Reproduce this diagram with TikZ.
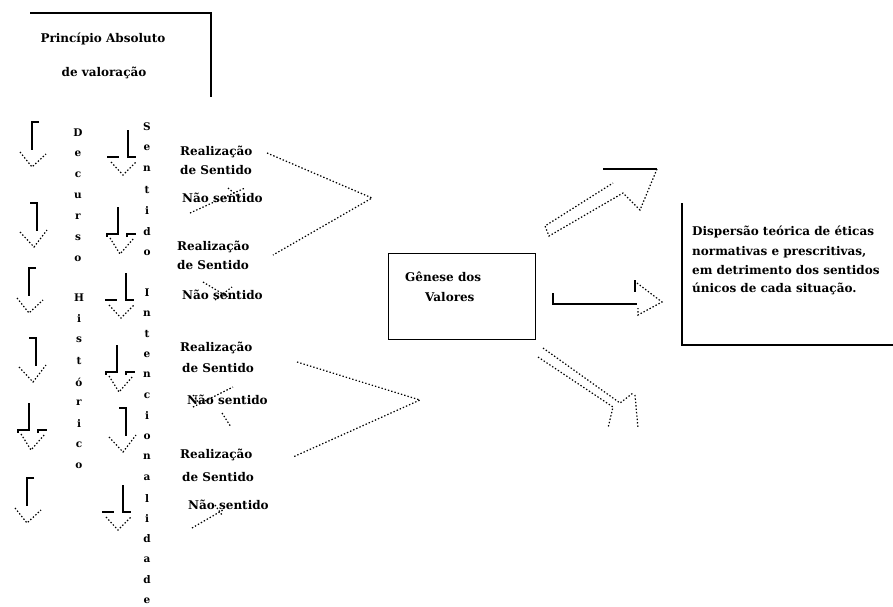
\documentclass[tikz,border=0pt]{standalone}
\usepackage{fontspec}
\setmainfont{DejaVu Serif}
\tikzset{
  ln/.style={line width=1.2pt},
  dt/.style={line width=1.2pt, dash pattern=on 1.4pt off 2pt},
  lbl/.style={font=\fontsize{12}{14}\selectfont\bfseries, inner sep=0pt, anchor=west},
  lblc/.style={font=\fontsize{12}{14}\selectfont\bfseries, inner sep=0pt, anchor=center},
  vl/.style={font=\fontsize{10.5}{12}\selectfont\bfseries, inner sep=0pt},
  atl/.pic={\draw[ln] (7,0)--(0,0)--(0,28); \draw[dt] (-12,30)--(0,45)--(14,32);},
  atr/.pic={\draw[ln] (-7,0)--(0,0)--(0,28); \draw[dt] (-17,29)--(-3,44)--(10,27);},
  afl/.pic={\draw[ln] (0,0)--(0,27)--(8,27); \draw[ln] (-21,27)--(-9,27); \draw[dt] (-17,32)--(-5,45)--(8,32);},
  ahk/.pic={\draw[ln] (0,0)--(0,27)--(-11,27)--(-11,30); \draw[ln] (9,30)--(9,27)--(18,27); \draw[dt] (-8,31)--(2,47)--(16,31);}
}
\begin{document}
\begin{tikzpicture}[x=1pt,y=-1pt]
\path[use as bounding box] (0,0) rectangle (893,606);

% top box
\draw[ln] (30,13) -- (211,13) -- (211,97);
\node[lblc] (pa) at (103,39) {Princípio Absoluto};
\node[lblc] (pv) at (104,73) {de valoração};

% left arrows column 1
\pic at (32,122) {atl};
\pic at (37,203) {atr};
\pic at (29,268) {atl};
\pic at (36,338) {atr};
\pic at (29,403) {ahk};
\pic at (27,478) {atl};
% left arrows column 2
\pic at (128,130) {afl};
\pic at (118,207) {ahk};
\pic at (126,273) {afl};
\pic at (117,345) {ahk};
\pic at (126,408) {atr};
\pic at (123,485) {afl};

% vertical words
\foreach \ch [count=\i from 0] in {D,e,c,u,r,s,o}
  \node[vl] (dc\i) at (78,{133+21*\i}) {\ch};
\foreach \ch [count=\i from 0] in {H,i,s,t,ó,r,i,c,o}
  \node[vl] (hi\i) at (79,{298+21*\i}) {\ch};
\foreach \ch [count=\i from 0] in {S,e,n,t,i,d,o}
  \node[vl] (se\i) at (147,{127+21*\i}) {\ch};
\foreach \ch [count=\i from 0] in {I,n,t,e,n,c,i,o,n,a,l,i,d,a,d,e}
  \node[vl] (in\i) at (147,{293+20.5*\i}) {\ch};

% text blocks
\node[lbl] (r1) at (180,152) {Realização};
\node[lbl] (s1) at (180,170) {de Sentido};
\node[lbl] (n1) at (182,198) {Não sentido};
\node[lbl] (r2) at (177,247) {Realização};
\node[lbl] (s2) at (177,265) {de Sentido};
\node[lbl] (n2) at (182,295) {Não sentido};
\node[lbl] (r3) at (180,348) {Realização};
\node[lbl] (s3) at (182,368) {de Sentido};
\node[lbl] (n3) at (187,400) {Não sentido};
\node[lbl] (r4) at (180,455) {Realização};
\node[lbl] (s4) at (182,477) {de Sentido};
\node[lbl] (n4) at (188,505) {Não sentido};

% converging dotted lines
\coordinate (a1) at (372,198);
\coordinate (a2) at (420,400);
\coordinate (b1) at (267,153);
\coordinate (b2) at (273,255);
\coordinate (b3) at (297,362);
\coordinate (b4) at (293,457);
\draw[dt] (b1) -- (a1) -- (b2);
\draw[dt] (b3) -- (a2) -- (b4);

% crossing dotted strokes on "Não sentido"
\draw[dt] (190,213) -- (245,188);
\draw[dt] (228,188) -- (240,198);
\draw[dt] (203,282) -- (228,297);
\draw[dt] (215,300) -- (232,287);
\draw[dt] (193,407) -- (233,387);
\draw[dt] (222,413) -- (231,427);
\draw[dt] (193,395) -- (199,403);
\draw[dt] (192,528) -- (223,510);
\draw[dt] (215,505) -- (222,515);

% Genese box
\node[draw, ln, minimum width=147pt, minimum height=86pt, inner sep=0pt, anchor=north west] (g) at (388,253) {};
\node[lbl] (g1) at (405,277) {Gênese dos};
\node[lbl] (g2) at (425,297) {Valores};

% right arrow
\draw[ln] (553,293) -- (553,304) -- (637,304);
\draw[ln] (635,280) -- (635,292);
\draw[dt] (637,283) -- (662,302) -- (638,315) -- (638,308);

% upper arrow
\draw[ln] (603,169) -- (657,169);
\draw[dt] (657,169) -- (640,210) -- (623,193) -- (549,236) -- (545,226) -- (613,183);

% lower arrow
\draw[dt] (543,348) -- (620,403) -- (633,393);
\draw[dt] (538,357) -- (613,407) -- (608,428);
\draw[dt] (635,395) -- (638,428);

% right text box
\draw[ln] (682,203) -- (682,345) -- (893,345);
\node[lbl] (t1) at (692,232) {Dispersão teórica de éticas};
\node[lbl] (t2) at (692,252) {normativas e prescritivas,};
\node[lbl] (t3) at (692,270) {em detrimento dos sentidos};
\node[lbl] (t4) at (692,289) {únicos de cada situação.};
\end{tikzpicture}
\end{document}
